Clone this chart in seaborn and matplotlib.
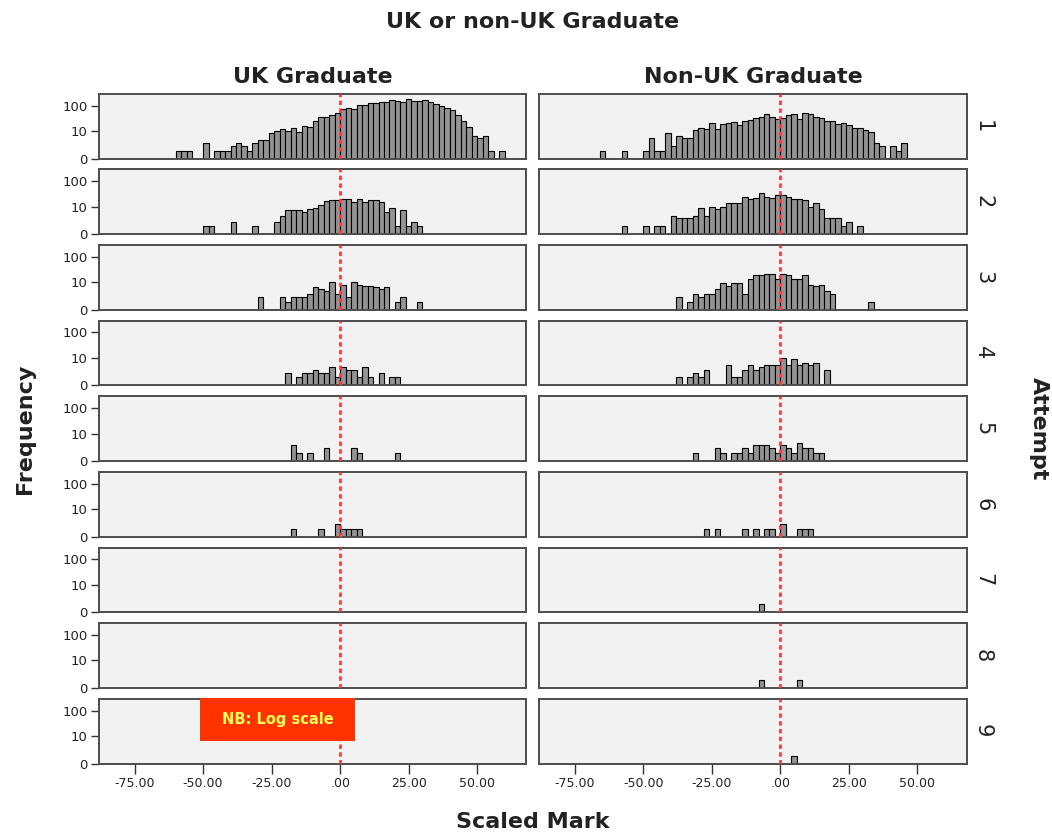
import numpy as np
import pandas as pd
import matplotlib
matplotlib.use("Agg")
import matplotlib.pyplot as plt
import seaborn as sns
from matplotlib.patches import Rectangle

# ---------------- data ----------------
GROUPS = ["UK Graduate", "Non-UK Graduate"]
ATTEMPTS = [1, 2, 3, 4, 5, 6, 7, 8, 9]
BIN_WIDTH = 2
X_TICKS = [-75, -50, -25, 0, 25, 50]
X_TICK_LABELS = ["-75.00", "-50.00", "-25.00", ".00", "25.00", "50.00"]
Y_TICKS = [0, 10, 100]
Y_TICK_LABELS = ["0", "10", "100"]

# left edge of the first bin of each panel (per attempt)
uk_start = [-60, -50, -30, -20, -18, -18, 0, 0, 0]
non_uk_start = [-66, -58, -38, -38, -32, -28, -8, -8, 4]

# UK graduates, counts per 2-point bin
uk_1 = [1, 1, 1, 0, 0, 3, 0,
        1, 1, 1, 2, 3, 2, 1, 3, 4, 4, 8, 10, 12, 10, 14, 9, 16, 15, 26, 38, 38, 45, 52,
        72, 80, 75, 110, 105, 125, 130, 135, 135, 170, 150, 140, 175, 150, 150, 160,
        140, 115, 100, 80, 68, 42, 25, 15, 6, 5, 6, 1, 0, 1]
uk_2 = [1, 1, 0, 0, 0, 2, 0, 0, 0, 1, 0, 0, 0, 2, 4, 7, 7, 7, 6, 8, 9, 12, 17, 19, 19,
        21, 21, 15, 20, 15, 19, 19, 15, 6, 9, 1, 7, 1, 2, 1]
uk_3 = [2, 0, 0, 0, 2, 1, 2, 2, 2, 3, 6, 5, 4, 10, 3, 8, 2, 10, 8, 7, 7, 6, 5, 6, 0,
        1, 2, 0, 0, 1]
uk_4 = [2, 0, 1, 2, 2, 3, 2, 2, 4, 1, 4, 3, 3, 1, 4, 1, 0, 2, 0, 1, 1]
uk_5 = [3, 1, 0, 1, 0, 0, 2, 0, 0, 0, 0, 2, 1, 0, 0, 0, 0, 0, 0, 1]
uk_6 = [1, 0, 0, 0, 0, 1, 0, 0, 2, 1, 1, 1, 1]
uk_7 = []
uk_8 = []
uk_9 = []

# Non-UK graduates, counts per 2-point bin
non_uk_1 = [1, 0, 0, 0, 1, 0, 0, 0, 1,
            5, 1, 1, 8, 2, 6, 5, 5, 11, 13, 12, 21, 12, 19, 21, 23, 17, 25, 27, 34, 37,
            46, 37, 30,
            34, 43, 46, 30, 54, 46, 37, 34, 25, 25, 19, 21, 17, 13, 13, 11, 9, 3, 2, 0,
            2, 1, 3]
non_uk_2 = [1, 0, 0, 0, 1, 0, 1, 1, 0,
            4, 3, 3, 3, 4, 9, 4, 10, 8, 10, 14, 14, 14, 25, 21, 23, 34, 25, 23, 30,
            30, 25, 21, 21, 19, 10, 14, 8, 3, 3, 3, 1, 2, 0, 1]
non_uk_3 = [2, 0, 1, 3, 2, 3, 3, 5, 9, 7, 9, 9, 3, 14, 20, 20, 21, 22, 14,
            21, 20, 14, 14, 20, 8, 7, 8, 4, 3, 0, 0, 0, 0, 0, 0, 1]
non_uk_4 = [1, 0, 1, 2, 1, 3, 0, 0, 0, 5, 1, 1, 3, 5, 3, 4, 5, 5, 5, 10, 5, 9, 5, 6,
            5, 6, 0, 3]
non_uk_5 = [1, 0, 0, 0, 2, 1, 0, 1, 1, 2, 1, 3, 3, 3, 2, 1, 3, 2, 1, 4, 2, 2, 1, 1]
non_uk_6 = [1, 0, 1, 0, 0, 0, 0, 1, 0, 1, 0, 1, 1, 0, 2, 0, 0, 1, 1, 1]
non_uk_7 = [1]
non_uk_8 = [1, 0, 0, 0, 0, 0, 0, 1]
non_uk_9 = [1]

uk_counts = [uk_1, uk_2, uk_3, uk_4, uk_5, uk_6, uk_7, uk_8, uk_9]
non_uk_counts = [non_uk_1, non_uk_2, non_uk_3, non_uk_4, non_uk_5, non_uk_6,
                 non_uk_7, non_uk_8, non_uk_9]

records = []
for g, starts, counts_list in [(GROUPS[0], uk_start, uk_counts),
                               (GROUPS[1], non_uk_start, non_uk_counts)]:
    for a, s, counts in zip(ATTEMPTS, starts, counts_list):
        for i, c in enumerate(counts):
            if c > 0:
                records.append({"group": g, "attempt": a,
                                "mark": s + BIN_WIDTH * i + BIN_WIDTH / 2,
                                "count": c})
df = pd.DataFrame(records)

# ---------------- plot ----------------
sns.set_theme(style="white")
plt.rcParams["font.family"] = ["DejaVu Sans"]

XMIN, XMAX = -88, 68
edges = [float(e) for e in np.arange(XMIN, XMAX + BIN_WIDTH, BIN_WIDTH)]


def fwd(y):
    return np.log10(1 + np.clip(y, 0, None))


def inv(v):
    return 10 ** v - 1


fig, axes = plt.subplots(9, 2, figsize=(10.52, 8.38), dpi=100)
fig.subplots_adjust(left=0.0941, right=0.919, top=0.888, bottom=0.0889,
                    hspace=0.168, wspace=0.03)

for r, a in enumerate(ATTEMPTS):
    for c, g in enumerate(GROUPS):
        ax = axes[r, c]
        ax.set_facecolor("#f2f2f2")
        sub = df[(df["group"] == g) & (df["attempt"] == a)]
        if len(sub):
            sns.histplot(data=sub, x="mark", weights="count", bins=edges, ax=ax,
                         color="#939393", edgecolor="black", linewidth=0.8,
                         alpha=1)
        ax.set_yscale("function", functions=(fwd, inv))
        ax.set_ylim(0, 280)
        ax.set_xlim(XMIN, XMAX)
        ax.axvline(0, color="#ff3b3b", linestyle=(0, (1.6, 1.2)), linewidth=2,
                   zorder=5)
        ax.set_xlabel("")
        ax.set_ylabel("")
        for s in ax.spines.values():
            s.set_visible(True)
            s.set_color("#4d4d4d")
            s.set_linewidth(1.4)
        ax.set_xticks(X_TICKS)
        ax.set_yticks(Y_TICKS)
        ax.yaxis.set_minor_locator(matplotlib.ticker.NullLocator())
        if c == 0:
            ax.set_yticklabels(Y_TICK_LABELS, fontsize=9.5, color="#222222")
            ax.tick_params(axis="y", left=True, direction="out", length=6,
                           width=1, color="#333333", pad=2)
        else:
            ax.tick_params(axis="y", left=False, labelleft=False)
            ax.text(1.038, 0.5, str(a), transform=ax.transAxes, rotation=-90,
                    ha="center", va="center", fontsize=15, color="#222222")
        if r == len(ATTEMPTS) - 1:
            ax.set_xticklabels(X_TICK_LABELS, fontsize=9, color="#222222")
            ax.tick_params(axis="x", bottom=True, direction="out", length=7,
                           width=1, color="#333333", pad=3)
        else:
            ax.tick_params(axis="x", bottom=False, labelbottom=False)
        if r == 0:
            ax.set_title(g, fontsize=16, fontweight="bold", pad=8, color="#222222")

fig.text(0.506, 0.974, "UK or non-UK Graduate", ha="center", va="center",
         fontsize=16, fontweight="bold", color="#222222")
fig.text(0.506, 0.019, "Scaled Mark", ha="center", va="center",
         fontsize=16, fontweight="bold", color="#222222")
fig.text(0.024, 0.488, "Frequency", ha="center", va="center", rotation=90,
         fontsize=16, fontweight="bold", color="#222222")
fig.text(0.988, 0.488, "Attempt", ha="center", va="center", rotation=-90,
         fontsize=16, fontweight="bold", color="#222222")

fig.add_artist(Rectangle((0.190, 0.1158), 0.147, 0.0513, transform=fig.transFigure,
                         facecolor="#ff3300", edgecolor="none", zorder=10))
fig.text(0.2638, 0.1414, "NB: Log scale", ha="center", va="center",
         fontsize=10.5, fontweight="bold", color="#ffff55", zorder=11)

fig.savefig("out.png", dpi=100)
